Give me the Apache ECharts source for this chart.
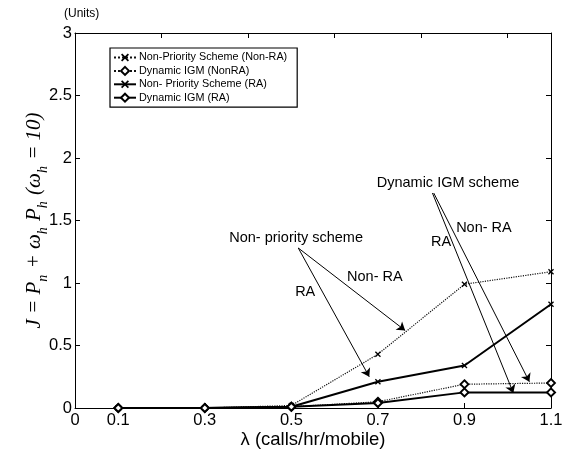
<!DOCTYPE html>
<html>
<head>
<meta charset="utf-8">
<script src="https://cdn.jsdelivr.net/npm/echarts@6/dist/echarts.min.js"></script>
<style>html,body{margin:0;padding:0;background:#fff;}#c{width:578px;height:460px;}</style>
</head>
<body>
<div id="c"></div>
<script>
// ---- data ----
var lambdaValues = [0.1, 0.3, 0.5, 0.7, 0.9, 1.1];
var xTickLabels = [0, 0.1, 0.3, 0.5, 0.7, 0.9, 1.1];
var seriesNames = ['Non-Priority Scheme (Non-RA)', 'Dynamic IGM (NonRA)', 'Non- Priority Scheme (RA)', 'Dynamic IGM (RA)'];
var nonPriorityNonRA = [0, 0, 0.02, 0.43, 0.99, 1.09];
var dynamicIgmNonRA = [0, 0, 0.01, 0.05, 0.19, 0.20];
var nonPriorityRA = [0, 0, 0.01, 0.21, 0.34, 0.83];
var dynamicIgmRA = [0, 0, 0.01, 0.04, 0.125, 0.125];

// annotations (data coordinates)
var annotationTexts = [
  {text: 'Non- priority scheme', at: [0.511, 1.36]},
  {text: 'RA', at: [0.532, 0.93]},
  {text: 'Non- RA', at: [0.693, 1.05]},
  {text: 'Dynamic IGM scheme', at: [0.862, 1.80]},
  {text: 'RA', at: [0.846, 1.33]},
  {text: 'Non- RA', at: [0.945, 1.44]}
];
var annotationArrows = [
  [[0.516, 1.28], [0.680, 0.25]],
  [[0.516, 1.28], [0.763, 0.62]],
  [[0.826, 1.72], [1.013, 0.12]],
  [[0.829, 1.72], [1.050, 0.21]]
];

function pairs(ys) { return lambdaValues.map(function (x, i) { return [x, ys[i]]; }); }

var xSym = 'path://M0,1.5L1.5,0L5,3.5L8.5,0L10,1.5L6.5,5L10,8.5L8.5,10L5,6.5L1.5,10L0,8.5L3.5,5Z';
var font = 'Liberation Sans, Arial, Helvetica, sans-serif';

var chart = echarts.init(document.getElementById('c'));
var option = {
  animation: false,
  backgroundColor: '#fff',
  title: {
    text: '(Units)', left: 59, top: 3,
    textStyle: {fontSize: 12, fontWeight: 'normal', color: '#000', fontFamily: font}
  },
  grid: {left: 75, right: 27, top: 33, bottom: 52},
  legend: {
    orient: 'vertical', left: 110, top: 48,
    data: seriesNames,
    itemWidth: 22, itemHeight: 10, itemGap: 2.4,
    padding: [4, 10, 4, 3],
    borderColor: '#000', borderWidth: 1.2, backgroundColor: '#fff',
    textStyle: {fontSize: 10.8, color: '#000', fontFamily: font, padding: [0, 0, 0, -2]}
  },
  xAxis: [{
    type: 'value', min: 0, max: 1.1, position: 'bottom',
    name: 'λ (calls/hr/mobile)', nameLocation: 'middle', nameGap: 22, nameMoveOverlap: false,
    nameTextStyle: {fontSize: 18.5, color: '#000', fontFamily: font},
    axisLine: {onZero: false, lineStyle: {color: '#000', width: 1}},
    axisTick: {inside: true, length: 5, customValues: xTickLabels, lineStyle: {color: '#000'}},
    axisLabel: {customValues: xTickLabels, fontSize: 16.5, color: '#000', fontFamily: font, margin: 4},
    splitLine: {show: false}
  }, {
    type: 'value', min: 0, max: 1.1, interval: 0.2, position: 'top',
    axisLine: {onZero: false, lineStyle: {color: '#000', width: 1}},
    axisTick: {inside: true, length: 5, lineStyle: {color: '#000'}},
    axisLabel: {show: false}, splitLine: {show: false}
  }],
  yAxis: [{
    type: 'value', min: 0, max: 3, interval: 0.5,
    name: '{m|J = P}{s|n}{m| + ω}{s|h}{m| P}{s|h}{m| (ω}{s|h}{m| = 10)}',
    nameLocation: 'middle', nameGap: 25, nameMoveOverlap: false,
    nameTextStyle: {
      color: '#000',
      rich: {
        m: {fontFamily: 'Liberation Serif, DejaVu Serif, serif', fontStyle: 'italic', fontSize: 21, color: '#000', verticalAlign: 'bottom', padding: [0, 0, 5, 0]},
        s: {fontFamily: 'Liberation Serif, DejaVu Serif, serif', fontStyle: 'italic', fontSize: 14, color: '#000', verticalAlign: 'bottom', padding: [0, 1, 0, 0]}
      }
    },
    axisLine: {show: true, onZero: false, lineStyle: {color: '#000', width: 1}},
    axisTick: {inside: true, length: 5, lineStyle: {color: '#000'}},
    axisLabel: {fontSize: 16.5, color: '#000', fontFamily: font, margin: 3},
    splitLine: {show: false}
  }, {
    type: 'value', min: 0, max: 3, interval: 0.5, position: 'right',
    axisLine: {show: true, onZero: false, lineStyle: {color: '#000', width: 1}},
    axisTick: {inside: true, length: 5, lineStyle: {color: '#000'}},
    axisLabel: {show: false}, splitLine: {show: false}
  }],
  series: [{
    name: seriesNames[0], type: 'line', data: pairs(nonPriorityNonRA),
    symbol: xSym, symbolSize: 6, showAllSymbol: true,
    lineStyle: {color: '#111', width: 1.2, type: 'dotted'},
    itemStyle: {color: '#000'},
    markLine: {
      silent: true, symbol: ['none', 'arrow'], symbolSize: 8,
      label: {show: false},
      lineStyle: {color: '#000', width: 1, type: 'solid'},
      emphasis: {disabled: true},
      data: annotationArrows.map(function (a) { return [{coord: a[0]}, {coord: a[1]}]; })
    },
    markPoint: {
      silent: true, symbol: 'circle', symbolSize: 1,
      itemStyle: {color: 'rgba(0,0,0,0)'},
      label: {show: true, position: 'inside', formatter: '{b}', color: '#000', fontSize: 14.5, fontFamily: font},
      data: annotationTexts.map(function (t) { return {name: t.text, coord: t.at}; })
    }
  }, {
    name: seriesNames[1], type: 'line', data: pairs(dynamicIgmNonRA),
    symbol: 'diamond', symbolSize: 8,
    lineStyle: {color: '#111', width: 1.2, type: 'dotted'},
    itemStyle: {color: '#fff', borderColor: '#000', borderWidth: 1.8}
  }, {
    name: seriesNames[2], type: 'line', data: pairs(nonPriorityRA),
    symbol: xSym, symbolSize: 6,
    lineStyle: {color: '#000', width: 2},
    itemStyle: {color: '#000'}
  }, {
    name: seriesNames[3], type: 'line', data: pairs(dynamicIgmRA),
    symbol: 'diamond', symbolSize: 8,
    lineStyle: {color: '#000', width: 2},
    itemStyle: {color: '#fff', borderColor: '#000', borderWidth: 2}
  }]
};
chart.setOption(option);
</script>
</body>
</html>
